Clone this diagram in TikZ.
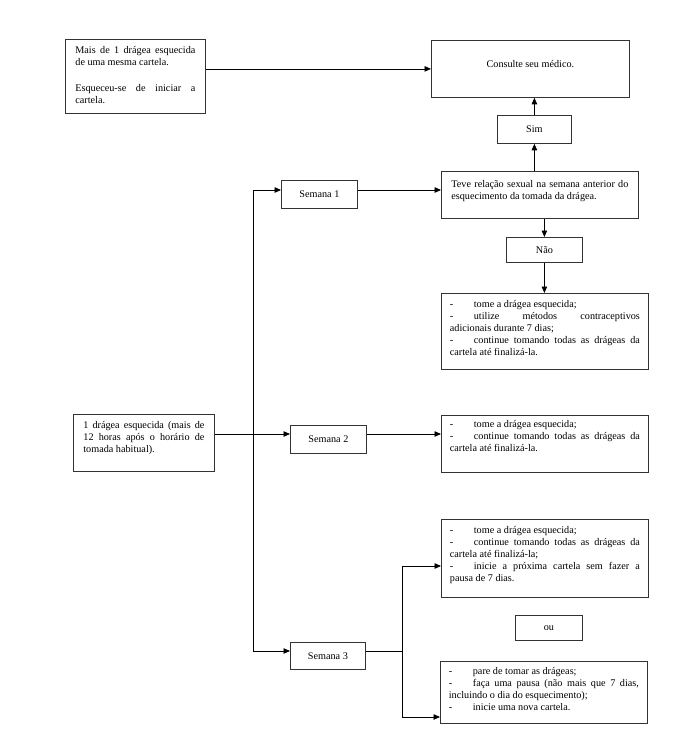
\documentclass[tikz,border=0pt]{standalone}
\usepackage{fontspec}
\setmainfont{Liberation Serif}
\usetikzlibrary{arrows.meta, positioning}
\tikzset{
    cell/.style={
        rectangle, draw=black!80, line width=0.8pt, anchor=north west,
        inner xsep=9pt, inner ysep=4pt,
        font=\fontsize{10.2}{12}\selectfont
    },
    tag/.style={
        rectangle, draw=black!80, line width=0.8pt, anchor=north west,
        inner sep=0pt, align=center,
        font=\fontsize{10.2}{12}\selectfont
    },
    arrow/.style={
        line width=0.8pt, -{Triangle[length=6.5pt,width=5.5pt]}
    },
    link/.style={line width=0.8pt, -}
}
% top aligned text block: width, height, text
\newcommand{\celltext}[3]{\parbox[t][#2][t]{#1}{#3}}
\newcommand{\dash}{\makebox[24pt][l]{-}}

\begin{document}
\begin{tikzpicture}[x=1pt, y=-1pt]
    \useasboundingbox (0,0) rectangle (673,745);

    % left column
    \node [cell, inner xsep=10pt, inner ysep=7pt] (maisA) at (65,39)
        {\celltext{120pt}{60pt}{Mais de 1 drágea esquecida\linebreak de uma mesma cartela.\par\vspace{14pt}Esqueceu-se de iniciar a\linebreak cartela.}};
    \node [cell, inner xsep=10pt, inner ysep=7pt] (maisB) at (73,414)
        {\celltext{121pt}{43pt}{1 drágea esquecida (mais de\linebreak 12 horas após o horário de\linebreak tomada habitual).}};

    % weeks
    \node [tag, minimum width=76pt, minimum height=28pt] (sem1) at (281,180) {Semana 1};
    \node [tag, minimum width=76pt, minimum height=28pt] (sem2) at (290,425) {Semana 2};
    \node [tag, minimum width=75pt, minimum height=27pt] (sem3) at (290,642) {Semana 3};

    % right column
    \node [tag, minimum width=198pt, minimum height=57pt, text depth=10pt] (consulte) at (431,40) {Consulte seu médico.};
    \node [tag, minimum width=74pt, minimum height=28pt] (sim) at (497,115) {Sim};
    \node [cell, inner xsep=10pt, inner ysep=9pt] (teve) at (441,171)
        {\celltext{177pt}{29pt}{Teve relação sexual na semana anterior do\linebreak esquecimento da tomada da drágea.}};
    \node [tag, minimum width=76pt, minimum height=25pt] (nao) at (506,237) {Não};
    \node [cell, inner xsep=8.5pt, inner ysep=7pt] (naoacts) at (441,293)
        {\celltext{190pt}{62pt}{\dash tome a drágea esquecida;\\
        \dash utilize métodos contraceptivos\linebreak adicionais durante 7 dias;\\
        \dash continue tomando todas as drágeas da\linebreak cartela até finalizá-la.}};
    \node [cell, inner xsep=8.5pt, inner ysep=5pt] (sem2acts) at (441,415)
        {\celltext{190pt}{47pt}{\dash tome a drágea esquecida;\\
        \dash continue tomando todas as drágeas da\linebreak cartela até finalizá-la.}};
    \node [cell, inner xsep=8.5pt, inner ysep=7pt] (sem3acts) at (441,519)
        {\celltext{190pt}{64pt}{\dash tome a drágea esquecida;\\
        \dash continue tomando todas as drágeas da\linebreak cartela até finalizá-la;\\
        \dash inicie a próxima cartela sem fazer a\linebreak pausa de 7 dias.}};
    \node [tag, minimum width=67pt, minimum height=25pt] (ou) at (515,615) {ou};
    \node [cell, inner xsep=8.5pt, inner ysep=6pt] (pausa) at (440,661)
        {\celltext{190pt}{50pt}{\dash pare de tomar as drágeas;\\
        \dash faça uma pausa (não mais que 7 dias,\linebreak incluindo o dia do esquecimento);\\
        \dash inicie uma nova cartela.}};

    % junctions
    \coordinate (s1in) at (253,190);
    \coordinate (fork) at (253,434);
    \coordinate (s3in) at (253,651);
    \coordinate (split) at (402,651);
    \coordinate (to3a) at (402,566);
    \coordinate (to3b) at (402,717);

    % connectors
    \draw [arrow] (maisA.east |- consulte.west) -- (consulte.west);
    \draw [arrow] (sim.north) -- (sim.north |- consulte.south);
    \draw [arrow] (teve.north -| sim.south) -- (sim.south);
    \draw [arrow] (teve.south -| nao.north) -- (nao.north);
    \draw [arrow] (nao.south) -- (nao.south |- naoacts.north);

    \draw [link] (maisB.east |- fork) -- (fork);
    \draw [link] (s1in) -- (s3in);
    \draw [arrow] (s1in) -- (sem1.west |- s1in);
    \draw [arrow] (fork) -- (sem2.west |- fork);
    \draw [arrow] (s3in) -- (sem3.west |- s3in);

    \draw [arrow] (sem1.east |- s1in) -- (teve.west |- s1in);
    \draw [arrow] (sem2.east |- fork) -- (sem2acts.west |- fork);

    \draw [link] (sem3.east |- split) -- (split);
    \draw [link] (to3a) -- (to3b);
    \draw [arrow] (to3a) -- (sem3acts.west |- to3a);
    \draw [arrow] (to3b) -- (pausa.west |- to3b);
\end{tikzpicture}
\end{document}
